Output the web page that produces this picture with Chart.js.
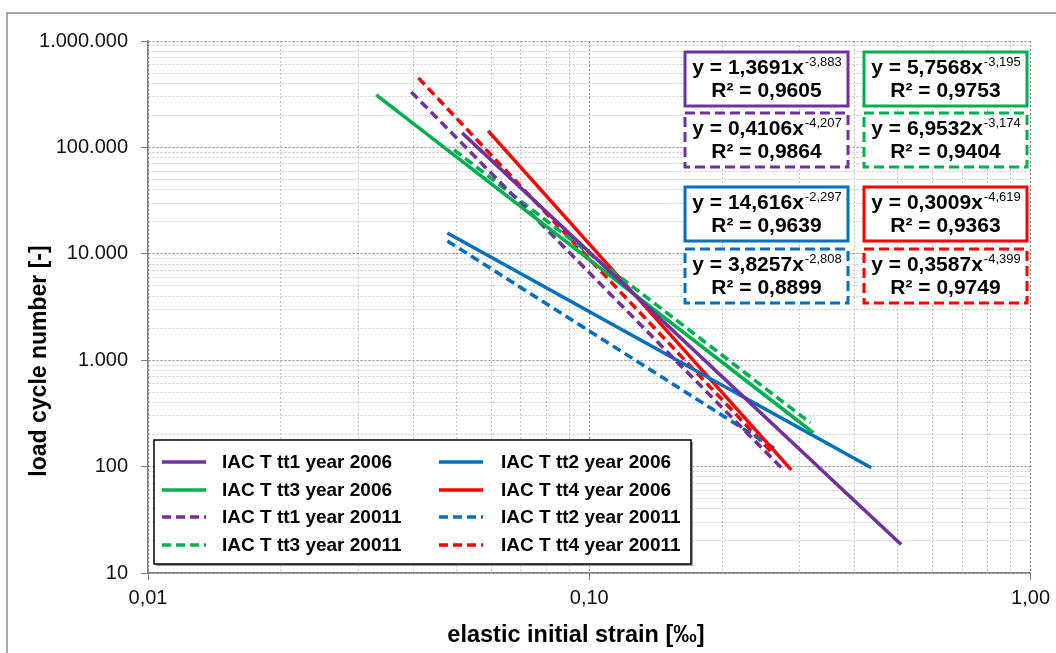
<!DOCTYPE html>
<html>
<head>
<meta charset="utf-8">
<script src="https://cdn.jsdelivr.net/npm/chart.js@4.4.0/dist/chart.umd.min.js"></script>
<style>
  html, body { margin: 0; padding: 0; background: #fff; }
  canvas { display: block; }
</style>
</head>
<body>
<canvas id="myChart" width="1056" height="653"></canvas>
<script>
// series, in legend order (column 1 then column 2)
const seriesLabels = [
  'IAC T tt1 year 2006', 'IAC T tt3 year 2006', 'IAC T tt1 year 20011', 'IAC T tt3 year 20011',
  'IAC T tt2 year 2006', 'IAC T tt4 year 2006', 'IAC T tt2 year 20011', 'IAC T tt4 year 20011'
];
const seriesColors = ['#7030A0', '#00B050', '#7030A0', '#00B050', '#0070C0', '#FF0000', '#0070C0', '#FF0000'];
const seriesDashed = [false, false, true, true, false, false, true, true];

// trend line end points
const strainStart = [0.0515, 0.0329, 0.0395, 0.0494, 0.0477, 0.0590, 0.0477, 0.0410];
const strainEnd   = [0.509, 0.322, 0.2725, 0.317, 0.4355, 0.287, 0.2655, 0.2615];
const cyclesStart = [137000, 311000, 332000, 94600, 15700, 142800, 13200, 450000];
const cyclesEnd   = [18.5, 208, 97.5, 258, 97.5, 93.3, 144, 131];

// trend line equations (same order as the series)
const eqCoef = ['y = 1,3691x', 'y = 5,7568x', 'y = 0,4106x', 'y = 6,9532x', 'y = 14,616x', 'y = 0,3009x', 'y = 3,8257x', 'y = 0,3587x'];
const eqExp  = ['-3,883', '-3,195', '-4,207', '-3,174', '-2,297', '-4,619', '-2,808', '-4,399'];
const eqR2   = ['0,9605', '0,9753', '0,9864', '0,9404', '0,9639', '0,9363', '0,8899', '0,9749'];

// axes
const xMajor = [0.01, 0.1, 1];
const xTickLabels = ['0,01', '0,10', '1,00'];
const yMajor = [10, 100, 1000, 10000, 100000, 1000000];
const yTickLabels = ['10', '100', '1.000', '10.000', '100.000', '1.000.000'];
const xTitle = 'elastic initial strain [‰]';
const yTitle = 'load cycle number [-]';

const FONT = "'Liberation Sans', Arial, sans-serif";

function logTicks(majors) {
  const t = [];
  majors.forEach((m, i) => {
    t.push({ value: m, major: true });
    if (i < majors.length - 1) {
      for (let k = 2; k <= 9; k++) t.push({ value: m * k, major: false });
    }
  });
  return t;
}

const datasets = seriesLabels.map((label, i) => ({
  label: label,
  data: [{ x: strainStart[i], y: cyclesStart[i] }, { x: strainEnd[i], y: cyclesEnd[i] }],
  borderColor: seriesColors[i],
  backgroundColor: seriesColors[i],
  borderWidth: 3.5,
  borderDash: seriesDashed[i] ? [9, 5] : [],
  showLine: true,
  pointRadius: 0,
  fill: false
}));

const gridColor = (c) => (c.tick && c.tick.major ? '#8a8a8a' : '#c8c8c8');
const tickColor = (c) => (c.tick && c.tick.major ? '#7f7f7f' : 'rgba(0,0,0,0)');

// frame, legend, equation boxes, axis titles
const decor = {
  id: 'decor',
  beforeDraw(chart) {
    const ctx = chart.ctx;
    ctx.save();
    ctx.fillStyle = '#fff';
    ctx.fillRect(0, 0, chart.width, chart.height);
    ctx.strokeStyle = '#8c8c8c';
    ctx.lineWidth = 1.5;
    ctx.beginPath();
    ctx.moveTo(7, chart.height);
    ctx.lineTo(7, 13);
    ctx.lineTo(chart.width, 13);
    ctx.stroke();
    ctx.restore();
  },
  afterDraw(chart) {
    const ctx = chart.ctx;
    ctx.save();

    // equation boxes
    const boxX = [685, 864];
    const boxY = [52, 113, 187, 249];
    const boxW = 163, boxH = 54;
    eqCoef.forEach((coef, i) => {
      const x = boxX[i % 2], y = boxY[Math.floor(i / 2)];
      ctx.fillStyle = '#fff';
      ctx.fillRect(x, y, boxW, boxH);
      ctx.strokeStyle = seriesColors[i];
      ctx.lineWidth = 3;
      ctx.setLineDash(seriesDashed[i] ? [10, 5] : []);
      ctx.strokeRect(x, y, boxW, boxH);
      ctx.setLineDash([]);
      ctx.fillStyle = '#000';
      ctx.textBaseline = 'alphabetic';
      ctx.textAlign = 'left';
      ctx.font = 'bold 21px ' + FONT;
      const w1 = ctx.measureText(coef).width;
      ctx.font = '13px ' + FONT;
      const w2 = ctx.measureText(eqExp[i]).width;
      const cx = x + boxW / 2;
      let sx = cx - (w1 + w2) / 2;
      ctx.font = 'bold 21px ' + FONT;
      ctx.fillText(coef, sx, y + 22);
      ctx.font = '13px ' + FONT;
      ctx.fillText(eqExp[i], sx + w1 + 1, y + 14);
      ctx.font = 'bold 21px ' + FONT;
      ctx.textAlign = 'center';
      ctx.fillText('R² = ' + eqR2[i], cx, y + 45);
    });

    // legend
    const lx = 154, ly = 440, lw = 537, lh = 124;
    ctx.fillStyle = '#a0a0a0';
    ctx.fillRect(lx + 2, ly + 2, lw, lh);
    ctx.fillStyle = '#fff';
    ctx.fillRect(lx, ly, lw, lh);
    ctx.strokeStyle = '#000';
    ctx.lineWidth = 1.5;
    ctx.strokeRect(lx, ly, lw, lh);
    const sampleX = [162, 439], textX = [222, 501];
    const rowY = [462, 490, 517, 545];
    ctx.font = 'bold 19px ' + FONT;
    ctx.textAlign = 'left';
    ctx.textBaseline = 'middle';
    chart.data.datasets.forEach((ds, i) => {
      const col = Math.floor(i / 4), row = i % 4;
      ctx.strokeStyle = ds.borderColor;
      ctx.lineWidth = 3.5;
      ctx.setLineDash(seriesDashed[i] ? [9, 5] : []);
      ctx.beginPath();
      ctx.moveTo(sampleX[col], rowY[row]);
      ctx.lineTo(sampleX[col] + 44, rowY[row]);
      ctx.stroke();
      ctx.setLineDash([]);
      ctx.fillStyle = '#000';
      ctx.fillText(ds.label, textX[col], rowY[row] + 1);
    });

    // axis titles
    ctx.fillStyle = '#000';
    ctx.font = 'bold 23.5px ' + FONT;
    ctx.textAlign = 'center';
    ctx.textBaseline = 'middle';
    ctx.fillText(xTitle, 576, 636);
    ctx.font = 'bold 23px ' + FONT;
    ctx.translate(40, 361);
    ctx.rotate(-Math.PI / 2);
    ctx.fillText(yTitle, 0, 0);
    ctx.restore();
  }
};

new Chart(document.getElementById('myChart'), {
  type: 'scatter',
  data: { datasets: datasets },
  plugins: [decor],
  options: {
    responsive: false,
    animation: false,
    devicePixelRatio: 1,
    layout: { padding: { top: 41, right: 23, left: 0, bottom: 0 } },
    plugins: { legend: { display: false }, tooltip: { enabled: false } },
    scales: {
      x: {
        type: 'logarithmic',
        min: 0.01,
        max: 1,
        afterBuildTicks: (scale) => { scale.ticks = logTicks(xMajor); },
        afterFit: (scale) => { scale.height = 80; },
        ticks: {
          autoSkip: false,
          maxRotation: 0,
          padding: 6,
          color: '#111',
          font: { family: FONT, size: 20 },
          callback: (v) => { const k = xMajor.indexOf(v); return k >= 0 ? xTickLabels[k] : ''; }
        },
        grid: { color: gridColor, tickColor: tickColor, tickLength: 7, lineWidth: 1 },
        border: { display: true, color: '#7f7f7f', width: 1.5, dash: [2, 2] }
      },
      y: {
        type: 'logarithmic',
        min: 10,
        max: 1000000,
        afterBuildTicks: (scale) => { scale.ticks = logTicks(yMajor); },
        afterFit: (scale) => { scale.width = 148; },
        ticks: {
          autoSkip: false,
          padding: 13,
          color: '#111',
          font: { family: FONT, size: 20 },
          callback: (v) => { const k = yMajor.indexOf(v); return k >= 0 ? yTickLabels[k] : ''; }
        },
        grid: { color: gridColor, tickColor: tickColor, tickLength: 7, lineWidth: 1 },
        border: { display: true, color: '#7f7f7f', width: 1.5, dash: [2, 2] }
      }
    }
  }
});
</script>
</body>
</html>
